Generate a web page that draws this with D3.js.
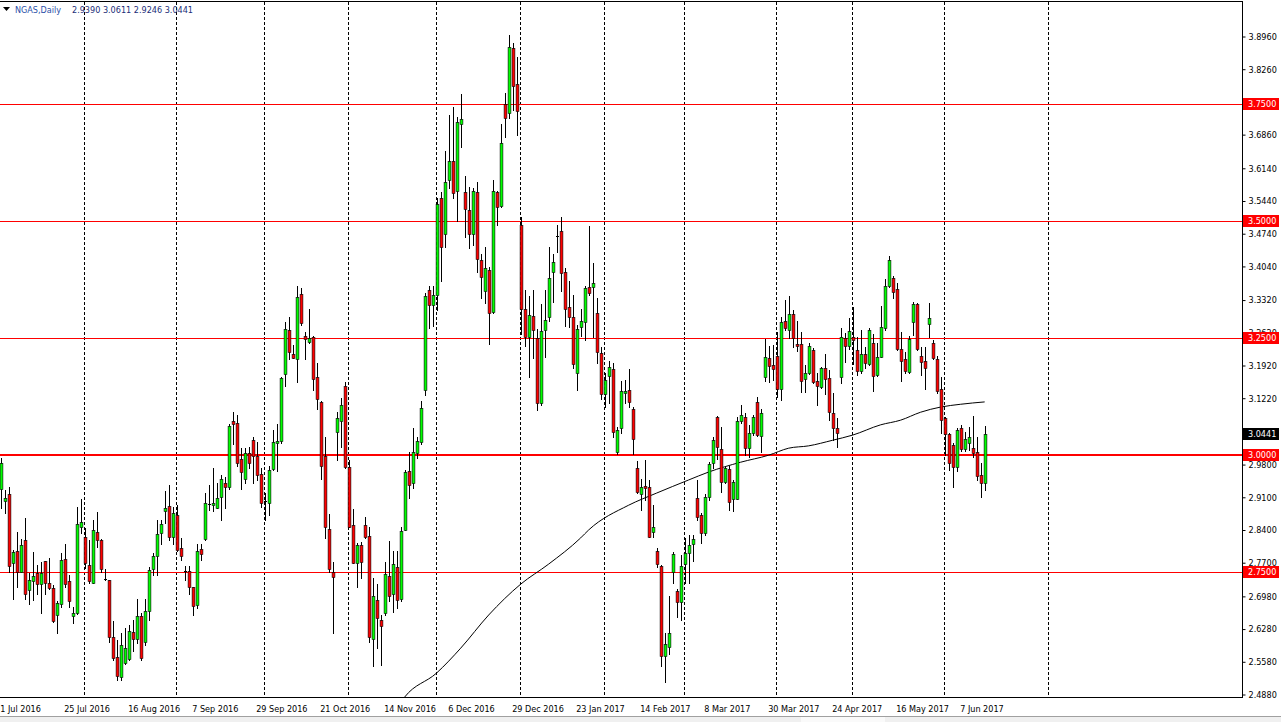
<!DOCTYPE html>
<html>
<head>
<meta charset="utf-8">
<script src="https://cdn.jsdelivr.net/npm/d3@7"></script>
<style>
  html, body { margin: 0; padding: 0; background: #ffffff; overflow: hidden; }
  svg { display: block; }
  text { font-family: Tahoma, "DejaVu Sans Condensed", "Liberation Sans", sans-serif; font-size: 9px; }
</style>
</head>
<body>
<svg id="chart" width="1281" height="722"></svg>
<script>
// ---------------- DATA ----------------
const symbol = "NGAS,Daily";
const lastQuote = ["2.9390", "3.0611", "2.9246", "3.0441"];

const open = [
2.926,2.902,2.915,2.768,2.793,2.750,2.818,2.711,2.730,2.747,
2.723,2.772,2.725,2.714,2.656,2.681,2.777,2.729,2.654,2.662,
2.845,2.825,2.765,2.726,2.834,2.818,2.734,2.731,2.611,2.567,
2.524,2.554,2.562,2.620,2.606,2.654,2.599,2.665,2.755,2.783,
2.833,2.880,2.890,2.825,2.871,2.800,2.752,2.752,2.717,2.678,
2.798,2.819,2.894,2.892,2.887,2.910,2.939,2.930,3.072,3.067,
2.990,2.947,3.003,3.031,2.998,2.959,2.900,2.897,2.969,3.026,
3.029,3.172,3.267,3.216,3.204,3.343,3.253,3.242,3.251,3.166,
3.112,2.997,2.842,2.748,3.049,3.073,3.147,2.973,2.850,2.768,
2.807,2.850,2.826,2.606,2.689,2.647,2.661,2.741,2.702,2.759,
2.691,2.839,2.966,2.939,3.003,3.027,3.138,3.352,3.320,3.342,
3.549,3.472,3.588,3.628,3.564,3.708,3.562,3.524,3.472,3.562,
3.417,3.350,3.395,3.305,3.562,3.532,3.750,3.731,3.870,3.793,
3.492,3.312,3.252,3.297,3.250,3.111,3.267,3.295,3.391,3.468,
3.479,3.391,3.316,3.295,3.175,3.273,3.284,3.359,3.359,3.303,
3.218,3.130,3.168,3.183,3.006,3.057,3.132,3.138,3.098,2.972,
2.916,2.933,2.931,2.834,2.794,2.762,2.569,2.588,2.749,2.708,
2.685,2.766,2.790,2.809,2.907,2.871,2.832,2.909,2.982,3.081,
3.012,2.942,2.969,2.905,2.905,3.072,3.081,3.014,3.046,3.113,
3.040,3.166,3.207,3.192,3.211,3.141,3.286,3.267,3.301,3.237,
3.237,3.162,3.175,3.224,3.158,3.145,3.186,3.164,3.089,3.057,
3.166,3.250,3.233,3.252,3.224,3.179,3.215,3.194,3.239,3.170,
3.209,3.271,3.361,3.378,3.355,3.226,3.205,3.177,3.284,3.322,
3.211,3.200,3.280,3.239,3.205,3.141,3.079,3.044,3.021,2.974,
3.057,3.012,3.025,3.014,3.006,2.957,2.9390];

const high = [
2.992,2.924,2.932,2.796,2.835,2.819,2.864,2.746,2.791,2.764,
2.771,2.773,2.780,2.721,2.686,2.789,2.810,2.743,2.675,2.889,
2.905,2.843,2.818,2.860,2.878,2.820,2.755,2.733,2.644,2.604,
2.618,2.629,2.636,2.646,2.691,2.661,2.691,2.760,2.789,2.860,
2.860,2.923,2.935,2.889,2.892,2.821,2.762,2.762,2.718,2.810,
2.810,2.919,2.935,2.971,2.939,2.957,2.953,3.066,3.092,3.085,
3.014,3.014,3.017,3.039,3.027,2.971,2.918,2.975,3.053,3.066,
3.167,3.283,3.295,3.235,3.361,3.356,3.263,3.311,3.254,3.196,
3.114,3.039,2.873,2.771,3.092,3.121,3.156,2.989,2.883,2.811,
2.814,2.866,2.846,2.736,2.724,2.657,2.771,2.816,2.795,2.793,
2.845,2.967,3.005,3.057,3.039,3.116,3.346,3.361,3.361,3.549,
3.562,3.650,3.727,3.744,3.723,3.772,3.596,3.573,3.571,3.583,
3.430,3.445,3.402,3.588,3.564,3.708,3.774,3.898,3.881,3.851,
3.509,3.352,3.340,3.352,3.269,3.322,3.352,3.445,3.430,3.492,
3.509,3.400,3.372,3.342,3.278,3.312,3.361,3.489,3.410,3.335,
3.230,3.175,3.201,3.196,3.059,3.158,3.160,3.183,3.102,2.986,
2.948,2.989,2.946,2.892,2.800,2.764,2.618,2.698,2.792,2.713,
2.785,2.822,2.828,2.828,2.946,2.875,2.916,2.984,3.038,3.083,
3.059,2.974,2.976,2.946,3.081,3.106,3.089,3.064,3.085,3.123,
3.098,3.248,3.233,3.235,3.263,3.295,3.331,3.340,3.310,3.286,
3.263,3.192,3.239,3.228,3.175,3.188,3.215,3.181,3.132,3.079,
3.271,3.261,3.293,3.316,3.252,3.267,3.230,3.271,3.258,3.239,
3.318,3.376,3.425,3.382,3.367,3.263,3.220,3.254,3.327,3.325,
3.230,3.230,3.325,3.245,3.211,3.166,3.081,3.046,3.025,3.057,
3.063,3.049,3.059,3.083,3.038,2.982,3.0611];

const low = [
2.885,2.875,2.750,2.691,2.718,2.748,2.691,2.680,2.689,2.702,
2.662,2.701,2.713,2.641,2.619,2.675,2.718,2.675,2.639,2.659,
2.832,2.757,2.725,2.725,2.803,2.750,2.732,2.600,2.561,2.519,
2.517,2.552,2.561,2.579,2.597,2.561,2.593,2.646,2.743,2.743,
2.810,2.853,2.818,2.810,2.793,2.775,2.732,2.702,2.657,2.671,
2.775,2.818,2.882,2.880,2.885,2.860,2.885,2.926,3.024,2.975,
2.926,2.939,2.971,2.939,2.946,2.888,2.860,2.870,2.967,2.966,
3.026,3.148,3.204,3.206,3.156,3.278,3.204,3.240,3.139,3.097,
2.949,2.821,2.750,2.619,2.989,3.017,2.971,2.845,2.768,2.718,
2.736,2.821,2.600,2.547,2.586,2.550,2.657,2.686,2.664,2.671,
2.686,2.838,2.907,2.928,2.992,3.024,3.128,3.271,3.275,3.310,
3.372,3.444,3.571,3.549,3.500,3.658,3.466,3.442,3.449,3.391,
3.335,3.325,3.237,3.303,3.492,3.530,3.680,3.721,3.738,3.684,
3.258,3.233,3.166,3.207,3.096,3.106,3.209,3.286,3.327,3.434,
3.350,3.275,3.273,3.186,3.138,3.254,3.245,3.342,3.252,3.196,
3.119,3.102,3.111,3.038,3.001,3.046,3.111,3.102,3.001,2.918,
2.882,2.903,2.824,2.824,2.760,2.548,2.514,2.573,2.725,2.653,
2.646,2.725,2.725,2.772,2.860,2.811,2.828,2.903,2.972,2.991,
2.920,2.939,2.882,2.879,2.905,3.068,2.999,2.995,3.042,3.040,
3.006,3.158,3.156,3.160,3.123,3.117,3.267,3.250,3.230,3.222,
3.134,3.134,3.173,3.153,3.106,3.143,3.130,3.074,3.031,3.016,
3.153,3.198,3.226,3.194,3.171,3.175,3.185,3.192,3.136,3.168,
3.209,3.267,3.359,3.335,3.224,3.158,3.175,3.175,3.256,3.224,
3.171,3.141,3.252,3.205,3.132,3.046,2.999,2.967,2.931,2.965,
3.008,3.008,3.010,2.995,2.946,2.909,2.9246];

const close = [
2.982,2.907,2.761,2.791,2.750,2.806,2.703,2.731,2.740,2.723,
2.747,2.726,2.714,2.645,2.682,2.775,2.723,2.688,2.661,2.851,
2.855,2.768,2.729,2.839,2.818,2.755,2.734,2.611,2.564,2.527,
2.592,2.586,2.622,2.605,2.654,2.564,2.665,2.753,2.783,2.830,
2.851,2.887,2.825,2.875,2.797,2.784,2.752,2.716,2.677,2.793,
2.788,2.896,2.894,2.896,2.907,2.947,2.930,3.062,3.066,2.983,
2.964,3.003,2.982,2.997,2.956,2.896,2.900,2.967,3.027,3.029,
3.164,3.268,3.219,3.208,3.337,3.281,3.247,3.249,3.161,3.119,
2.976,2.846,2.755,2.739,3.078,3.106,2.973,2.846,2.769,2.806,
2.771,2.823,2.609,2.698,2.650,2.634,2.745,2.698,2.766,2.689,
2.836,2.962,2.935,3.005,3.029,3.099,3.340,3.320,3.342,3.536,
3.444,3.583,3.628,3.560,3.712,3.718,3.526,3.472,3.564,3.419,
3.380,3.400,3.303,3.564,3.530,3.667,3.721,3.872,3.789,3.736,
3.312,3.252,3.299,3.267,3.111,3.265,3.288,3.378,3.412,3.468,
3.389,3.312,3.295,3.194,3.269,3.286,3.357,3.346,3.367,3.220,
3.130,3.160,3.188,3.049,3.053,3.136,3.136,3.113,3.034,2.920,
2.931,2.929,2.824,2.845,2.766,2.569,2.595,2.618,2.787,2.685,
2.762,2.790,2.807,2.820,2.867,2.832,2.909,2.980,3.031,3.016,
2.942,2.972,2.899,2.942,3.072,3.085,3.014,3.046,3.081,3.042,
3.089,3.209,3.190,3.183,3.141,3.284,3.271,3.301,3.250,3.233,
3.158,3.175,3.233,3.156,3.147,3.186,3.162,3.091,3.057,3.046,
3.252,3.233,3.265,3.245,3.179,3.215,3.196,3.267,3.168,3.209,
3.273,3.361,3.417,3.348,3.226,3.201,3.179,3.248,3.322,3.226,
3.198,3.185,3.293,3.207,3.136,3.074,3.044,2.982,2.974,3.053,
3.012,3.034,3.038,3.004,2.954,2.939,3.0441];

// 200-day moving average, sampled at bar indices
const maIdx = [100, 101, 109, 115, 122, 130, 137, 145, 147, 157, 164, 172, 177, 185, 192, 197, 202, 208, 213, 220, 225, 230, 235, 240, 246];
const maVal = [2.470, 2.4815, 2.533, 2.586, 2.657, 2.723, 2.766, 2.822, 2.839, 2.892, 2.918, 2.946, 2.963, 2.984, 2.999, 3.014, 3.019, 3.031, 3.042, 3.064, 3.074, 3.091, 3.102, 3.108, 3.113];

// horizontal levels
const levels = [3.75, 3.50, 3.25, 3.00, 2.75];

// price axis ticks
const yTicks = [3.8960, 3.8260, 3.6860, 3.6140, 3.5440, 3.4740, 3.4040, 3.3320, 3.2620, 3.1920, 3.1220, 2.9800, 2.9100, 2.8400, 2.7700, 2.6980, 2.6280, 2.5580, 2.4880];

// date axis labels (bar index, text)
const dateIdx = [0, 16, 32, 48, 64, 80, 96, 112, 128, 144, 160, 176, 192, 208, 224, 240];
const dateLabels = ["1 Jul 2016", "25 Jul 2016", "16 Aug 2016", "7 Sep 2016", "29 Sep 2016", "21 Oct 2016", "14 Nov 2016", "6 Dec 2016", "29 Dec 2016", "23 Jan 2017", "14 Feb 2017", "8 Mar 2017", "30 Mar 2017", "24 Apr 2017", "16 May 2017", "7 Jun 2017"];

// month separators (bar index of first bar of each month)
const monthIdx = [21, 44, 66, 87, 109, 130, 151, 171, 194, 213, 236, 262];

// ---------------- DRAW ----------------
const svg = d3.select("#chart");
const plotL = 0, plotR = 1242, plotT = 1, plotB = 697;

const x = d3.scaleLinear().domain([0, 246]).range([0.67, 984.67]);
const y = d3.scaleLinear().domain([2.488, 3.896]).range([694, 36]);

svg.append("defs").append("clipPath").attr("id", "plotclip")
  .append("rect").attr("x", plotL).attr("y", plotT).attr("width", plotR - plotL).attr("height", plotB - plotT);

// month grid
svg.append("g").selectAll("line").data(monthIdx).join("line")
  .attr("x1", d => Math.round(x(d)) - 0.5).attr("x2", d => Math.round(x(d)) - 0.5)
  .attr("y1", plotT + 1).attr("y2", plotB)
  .attr("stroke", "#000").attr("stroke-width", 1).attr("stroke-dasharray", "3,2");

// horizontal levels
svg.append("g").selectAll("line").data(levels).join("line")
  .attr("x1", plotL).attr("x2", plotR)
  .attr("y1", d => d === 3.0 ? Math.round(y(d)) : Math.round(y(d)) + 0.5)
  .attr("y2", d => d === 3.0 ? Math.round(y(d)) : Math.round(y(d)) + 0.5)
  .attr("stroke", "#ff0000").attr("stroke-width", d => d === 3.0 ? 2 : 1);

// moving average
const maPts = maIdx.map((d, i) => [d, maVal[i]]);
svg.append("path").datum(maPts)
  .attr("clip-path", "url(#plotclip)")
  .attr("fill", "none").attr("stroke", "#000").attr("stroke-width", 1)
  .attr("d", d3.line().x(d => x(d[0])).y(d => y(d[1])).curve(d3.curveMonotoneX));

// candles
const bars = open.map((o, i) => ({ i, o, h: high[i], l: low[i], c: close[i] }));
const cg = svg.append("g").attr("clip-path", "url(#plotclip)");
bars.forEach(b => {
  const L = Math.round(x(b.i)) - 1;
  const xc = L + 1.5;
  const yh = Math.round(y(b.h)), yl = Math.round(y(b.l));
  cg.append("rect").attr("x", L + 1).attr("y", yh).attr("width", 1).attr("height", Math.max(1, yl - yh + 1)).attr("fill", "#000");
  const top = Math.round(y(Math.max(b.o, b.c))), bot = Math.round(y(Math.min(b.o, b.c)));
  if (bot - top < 1 || b.o === b.c) {
    cg.append("rect").attr("x", L).attr("y", top).attr("width", 3).attr("height", 1).attr("fill", "#000");
  } else {
    cg.append("rect").attr("x", xc - 1.4).attr("y", top + 0.5).attr("width", 2.8).attr("height", bot - top)
      .attr("fill", b.c > b.o ? "#00ff00" : "#ff0000").attr("stroke", "#000").attr("stroke-width", 0.6);
  }
});

// frame
svg.append("line").attr("x1", 0).attr("x2", plotR + 0.5).attr("y1", 1.5).attr("y2", 1.5).attr("stroke", "#000");
svg.append("line").attr("x1", 0).attr("x2", plotR + 0.5).attr("y1", plotB + 0.5).attr("y2", plotB + 0.5).attr("stroke", "#000");
svg.append("line").attr("x1", plotR + 0.5).attr("x2", plotR + 0.5).attr("y1", 1).attr("y2", plotB + 1).attr("stroke", "#000");

// price axis
const yAxis = d3.axisRight(y).tickValues(yTicks).tickSize(3).tickSizeOuter(0).tickPadding(3).tickFormat(d3.format(".4f"));
const ya = svg.append("g").attr("transform", `translate(${plotR + 0.5},0.5)`).call(yAxis);
ya.select(".domain").remove();
ya.selectAll("text").attr("fill", "#000").attr("font-size", 9);

// level labels on price axis
const lg = svg.append("g");
levels.forEach(v => {
  const yy = Math.round(y(v));
  lg.append("rect").attr("x", plotR + 1).attr("y", yy - 6).attr("width", 36).attr("height", 12).attr("fill", "#ff0000");
  lg.append("text").attr("x", plotR + 6).attr("y", yy).attr("dy", "0.34em").attr("fill", "#fff").text(d3.format(".4f")(v));
});
{
  const v = +lastQuote[3];
  const yy = Math.round(y(v));
  lg.append("rect").attr("x", plotR + 1).attr("y", yy - 6).attr("width", 36).attr("height", 12).attr("fill", "#000");
  lg.append("text").attr("x", plotR + 6).attr("y", yy).attr("dy", "0.34em").attr("fill", "#fff").text(lastQuote[3]);
}

// date axis
const xAxis = d3.axisBottom(x).tickValues(dateIdx).tickSize(0).tickPadding(0)
  .tickFormat((d, i) => dateLabels[i]);
const xa = svg.append("g").attr("transform", `translate(0,${plotB + 1})`).call(xAxis);
xa.select(".domain").remove();
xa.selectAll("text").attr("text-anchor", "start").attr("dx", -1).attr("y", 14).attr("dy", 0).attr("fill", "#000").attr("font-size", 9);

// header
svg.append("path").attr("d", "M3,7 L10,7 L6.5,11 Z").attr("fill", "#000");
svg.append("text").attr("x", 15).attr("y", 13).attr("fill", "#2a4fa8").text(symbol);
svg.append("text").attr("x", 72).attr("y", 13).attr("fill", "#1a2d78").text(lastQuote.join(" "));

// bottom tab bar
svg.append("rect").attr("x", 0).attr("y", 716).attr("width", 1281).attr("height", 6).attr("fill", "#f0f0f0");
svg.append("line").attr("x1", 0).attr("x2", 1281).attr("y1", 716.5).attr("y2", 716.5).attr("stroke", "#a0a0a0");
svg.append("rect").attr("x", 801).attr("y", 717).attr("width", 84).attr("height", 5).attr("fill", "#fafafa");
</script>
</body>
</html>
